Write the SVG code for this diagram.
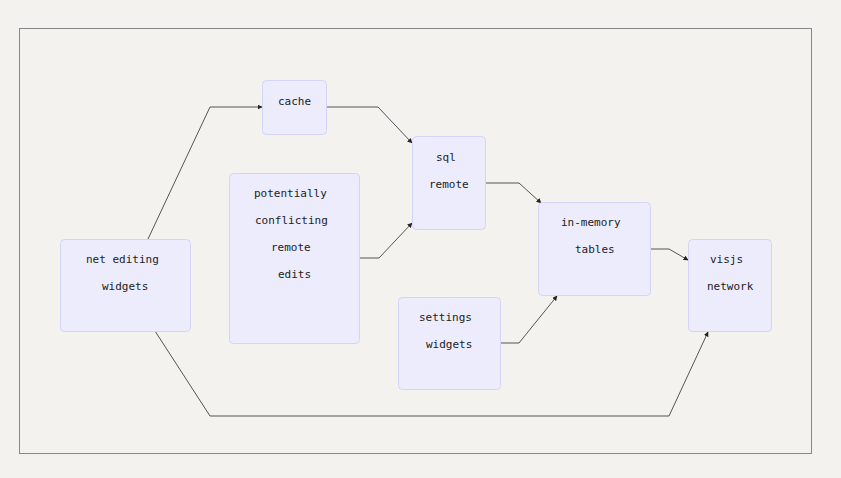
<svg xmlns="http://www.w3.org/2000/svg" width="841" height="478" viewBox="0 0 841 478">
<style>
.node rect{fill:#ececfc;stroke:#d4d4f6;stroke-width:1}
.node text{font-family:"DejaVu Sans Mono","Liberation Mono",monospace;font-size:11px;fill:#222}
.edges path{fill:none;stroke:#555;stroke-width:1}
</style>
<defs>
<marker id="arr" viewBox="0 0 10 10" refX="9" refY="5" markerWidth="5" markerHeight="5" orient="auto" markerUnits="userSpaceOnUse">
<path d="M0,0 L10,5 L0,10 z" fill="#222"/>
</marker>
</defs>
<rect x="0" y="0" width="841" height="478" fill="#f3f2ee"/>
<rect x="19.5" y="28.5" width="792" height="425" fill="none" stroke="#888" stroke-width="1"/>
<g class="edges">
<path d="M148,239 L210,107 L262,107" marker-end="url(#arr)"/>
<path d="M327,107 L378,107 L412,143" marker-end="url(#arr)"/>
<path d="M359,258 L379,258 L412,223" marker-end="url(#arr)"/>
<path d="M485,183 L519,183 L541,203" marker-end="url(#arr)"/>
<path d="M500,343 L519,343 L557,296" marker-end="url(#arr)"/>
<path d="M650,249 L669,249 L688,260" marker-end="url(#arr)"/>
<path d="M155,331 L210,416 L669,416 L708,332" marker-end="url(#arr)"/>
</g>
<g id="cache" class="node"><rect x="262.5" y="80.5" width="64" height="54" rx="4"/><text x="278" y="105">cache</text></g>
<g id="net" class="node"><rect x="60.5" y="239.5" width="130" height="92" rx="4"/><text x="86" y="263">net editing</text><text x="102" y="290">widgets</text></g>
<g id="conflict" class="node"><rect x="229.5" y="173.5" width="130" height="170" rx="4"/><text x="254" y="197">potentially</text><text x="255" y="224">conflicting</text><text x="271" y="251">remote</text><text x="278" y="278">edits</text></g>
<g id="sql" class="node"><rect x="412.5" y="136.5" width="73" height="93" rx="4"/><text x="436" y="161">sql</text><text x="429" y="188">remote</text></g>
<g id="mem" class="node"><rect x="538.5" y="202.5" width="112" height="93" rx="4"/><text x="561" y="226">in-memory</text><text x="575" y="253">tables</text></g>
<g id="settings" class="node"><rect x="398.5" y="297.5" width="102" height="92" rx="4"/><text x="419" y="321">settings</text><text x="426" y="348">widgets</text></g>
<g id="visjs" class="node"><rect x="688.5" y="239.5" width="83" height="92" rx="4"/><text x="710" y="263">visjs</text><text x="707" y="290">network</text></g>
</svg>
